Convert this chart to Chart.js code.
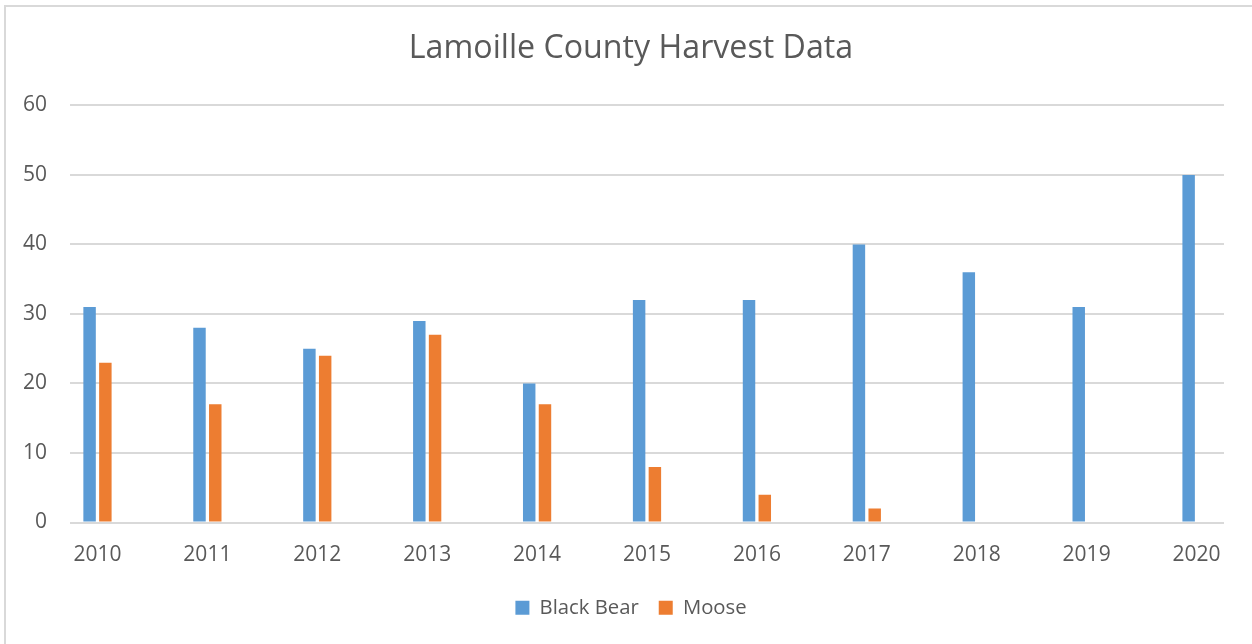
<!DOCTYPE html>
<html>
<head>
<meta charset="utf-8">
<script src="https://cdn.jsdelivr.net/npm/chart.js@4"></script>
<style>
  html, body { margin: 0; padding: 0; background: #ffffff; overflow: hidden; }
  #wrap { position: relative; width: 1252px; height: 644px; overflow: hidden; }
  #frame { position: absolute; left: 4px; top: 5px; width: 1400px; height: 800px; border: 2px solid #d9d9d9; box-sizing: border-box; }
  canvas { position: absolute; left: 0; top: 0; }
</style>
</head>
<body>
<div id="wrap">
  <div id="frame"></div>
  <canvas id="c" width="1262" height="644"></canvas>
</div>
<script>
const years = [2010, 2011, 2012, 2013, 2014, 2015, 2016, 2017, 2018, 2019, 2020];
const blackBear = [31, 28, 25, 29, 20, 32, 32, 40, 36, 31, 50];
const moose = [23, 17, 24, 27, 17, 8, 4, 2, null, null, null];
const yTicks = [0, 10, 20, 30, 40, 50, 60];

const textColor = '#595959';
const fontFamily = "'Open Sans', 'Liberation Sans', sans-serif";

new Chart(document.getElementById('c'), {
  type: 'bar',
  data: {
    datasets: [
      { label: 'Black Bear', data: years.map((y, i) => ({ x: y, y: blackBear[i] })), backgroundColor: '#5B9BD5', borderWidth: 0, categoryPercentage: 0.287, barPercentage: 0.79 },
      { label: 'Moose', data: years.map((y, i) => ({ x: y, y: moose[i] })), backgroundColor: '#ED7D31', borderWidth: 0, categoryPercentage: 0.287, barPercentage: 0.79 }
    ]
  },
  options: {
    responsive: false,
    animation: false,
    layout: { padding: { left: 0, right: 0, top: 0, bottom: 16 } },
    plugins: {
      title: {
        display: true,
        text: 'Lamoille County Harvest Data',
        color: textColor,
        font: { family: fontFamily, size: 32.2, weight: 'normal' },
        padding: { top: 30, bottom: 36.8 }
      },
      legend: {
        position: 'bottom',
        labels: {
          color: textColor,
          font: { family: fontFamily, size: 20.3 },
          boxWidth: 14,
          boxHeight: 14,
          padding: 20
        }
      },
      tooltip: { enabled: false }
    },
    scales: {
      x: {
        type: 'linear',
        offset: false,
        min: 2009.75,
        max: 2020.25,
        grid: { display: false, drawTicks: false },
        border: { display: false },
        afterBuildTicks: (s) => { s.ticks = years.map(v => ({ value: v })); },
        afterFit: (s) => { s.height = s.height - 10; },
        ticks: {
          color: textColor,
          font: { family: fontFamily, size: 21 },
          padding: 20,
          autoSkip: false,
          maxRotation: 0,
          includeBounds: false,
          callback: (v) => String(v)
        }
      },
      y: {
        min: 0,
        max: 60,
        grid: { color: '#d9d9d9', lineWidth: 2, drawTicks: false },
        border: { display: false },
        afterBuildTicks: (s) => { s.ticks = yTicks.map(v => ({ value: v })); },
        afterFit: (s) => { s.width = 70; },
        ticks: {
          color: textColor,
          font: { family: fontFamily, size: 21 },
          padding: 23,
          callback: (v) => String(v)
        }
      },
      yRight: {
        type: 'linear',
        position: 'right',
        grid: { display: false, drawTicks: false },
        border: { display: false },
        ticks: { display: false },
        afterFit: (s) => { s.width = 38; }
      }
    }
  }
});
</script>
</body>
</html>
